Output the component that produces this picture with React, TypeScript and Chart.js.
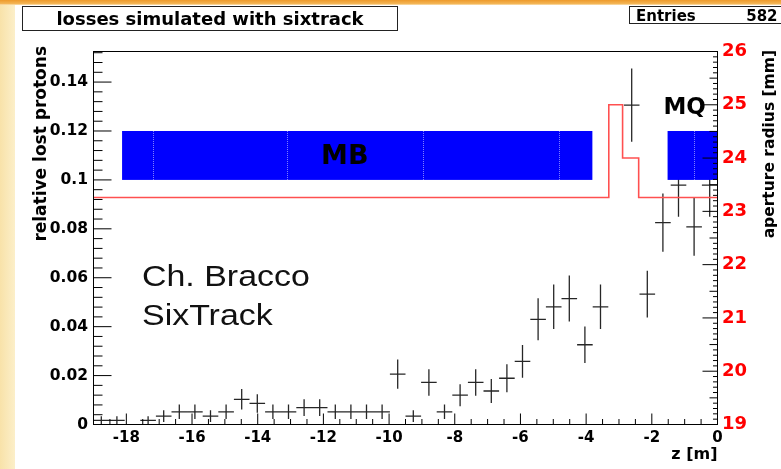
import React, { useEffect, useRef } from 'react';
import { Chart, registerables } from 'chart.js';

Chart.register(...registerables);

// ---- histogram: relative lost protons per bin, z from -19 to 0 m ----
const binLow = -19;
const binHigh = 0;
const lossValues = [
  0.0017, 0.0017, 0, 0.0017, 0.0034, 0.0052, 0.0052, 0.0034, 0.0052, 0.0103,
  0.0086, 0.0052, 0.0052, 0.0069, 0.0069, 0.0052, 0.0052, 0.0052, 0.0052, 0.0206,
  0.0034, 0.0172, 0.0052, 0.0120, 0.0172, 0.0137, 0.0189, 0.0258, 0.0430, 0.0481,
  0.0515, 0.0326, 0.0481, 0, 0.1306, 0.0533, 0.0825, 0.0979, 0.0808, 0.0979,
];
const lossErrors = [
  0.0017, 0.0017, 0, 0.0017, 0.0024, 0.0030, 0.0030, 0.0024, 0.0030, 0.0042,
  0.0038, 0.0030, 0.0030, 0.0034, 0.0034, 0.0030, 0.0030, 0.0030, 0.0030, 0.0060,
  0.0024, 0.0054, 0.0030, 0.0045, 0.0054, 0.0049, 0.0057, 0.0067, 0.0086, 0.0091,
  0.0094, 0.0075, 0.0091, 0, 0.0150, 0.0096, 0.0119, 0.0130, 0.0118, 0.0130,
];

// ---- aperture radius (right axis, mm) ----
const apertureZ = [-19, -3.31, -2.89, -2.40, 0];
const apertureR = [23.26, 25.0, 24.0, 23.26, 23.26];

// ---- magnets ----
const magnetNames = ['MB', 'MQ'];
const magnetStart = [-18.13, -1.52];
const magnetEnd = [-3.81, 0];
const magnetBottom = 0.1;
const magnetTop = 0.12;
const magnetSplits = [-17.2, -13.1, -8.96, -4.83, -0.705];
const magnetLabelZ = [-11.35, -1.0];
const magnetLabelY = [0.1065, 0.1268];
const magnetLabelSize = [27, 23];

// ---- axes ----
const xRange = [-19, 0];
const xTicks = [-18, -16, -14, -12, -10, -8, -6, -4, -2, 0];
const xTickLabels = ['-18', '-16', '-14', '-12', '-10', '-8', '-6', '-4', '-2', '0'];
const yRange = [0, 0.1525];
const yTicks = [0, 0.02, 0.04, 0.06, 0.08, 0.1, 0.12, 0.14];
const yTickLabels = ['0', '0.02', '0.04', '0.06', '0.08', '0.1', '0.12', '0.14'];
const rRange = [19, 26];
const rTicks = [19, 20, 21, 22, 23, 24, 25, 26];
const rTickLabels = ['19', '20', '21', '22', '23', '24', '25', '26'];

const titleText = 'losses simulated with sixtrack';
const statsLabel = 'Entries';
const statsValue = '582';
const yTitle = 'relative lost protons';
const rTitle = 'aperture radius [mm]';
const xTitle = 'z [m]';
const noteLines = ['Ch. Bracco', 'SixTrack'];

const BOLD = '"DejaVu Sans", "Liberation Sans", Arial, sans-serif';

const rootPlugin = {
  id: 'rootStyle',
  beforeDraw(chart: any) {
    const ctx = chart.ctx;
    const W = chart.width, H = chart.height;
    ctx.save();
    ctx.fillStyle = '#ffffff';
    ctx.fillRect(0, 0, W, H);
    // slide decoration: left beige strip and top orange band
    const g = ctx.createLinearGradient(0, 0, 15, 0);
    g.addColorStop(0, '#f8e2a9');
    g.addColorStop(1, '#fcefc9');
    ctx.fillStyle = g;
    ctx.fillRect(0, 0, 15, H);
    const t = ctx.createLinearGradient(0, 0, 0, 5);
    t.addColorStop(0, '#ee9a2a');
    t.addColorStop(0.7, '#f3b454');
    t.addColorStop(1, '#fbe2b4');
    ctx.fillStyle = t;
    ctx.fillRect(0, 0, W, 5);

    // title box
    ctx.fillStyle = '#ffffff';
    ctx.fillRect(22.5, 6.5, 375, 24);
    ctx.strokeStyle = '#222';
    ctx.lineWidth = 1;
    ctx.strokeRect(22.5, 6.5, 375, 24);
    ctx.fillStyle = '#000';
    ctx.font = `bold 18px ${BOLD}`;
    ctx.textAlign = 'center';
    ctx.textBaseline = 'alphabetic';
    ctx.fillText(titleText, 210, 25);

    // stats box
    ctx.fillStyle = '#ffffff';
    ctx.fillRect(629.5, 6.5, 152, 17);
    ctx.strokeRect(629.5, 6.5, 152, 17);
    ctx.fillStyle = '#000';
    ctx.font = `bold 15px ${BOLD}`;
    ctx.textAlign = 'left';
    ctx.fillText(statsLabel, 636, 20.5);
    ctx.textAlign = 'right';
    ctx.fillText(statsValue, 777.5, 20.5);
    ctx.restore();
  },
  beforeDatasetsDraw(chart: any) {
    const ctx = chart.ctx;
    const a = chart.chartArea;
    const xs = chart.scales.x, ys = chart.scales.y;
    const w = (binHigh - binLow) / lossValues.length;
    ctx.save();
    ctx.beginPath();
    ctx.rect(a.left, a.top, a.right - a.left, a.bottom - a.top);
    ctx.clip();
    ctx.strokeStyle = '#262626';
    ctx.lineWidth = 1.3;
    ctx.beginPath();
    lossValues.forEach((v, i) => {
      if (v <= 0) return;
      const e = lossErrors[i];
      const lo = binLow + i * w;
      const pl = xs.getPixelForValue(lo);
      const ph = xs.getPixelForValue(lo + w);
      const pc = xs.getPixelForValue(lo + w / 2);
      const py = ys.getPixelForValue(v);
      ctx.moveTo(pl, py);
      ctx.lineTo(ph, py);
      ctx.moveTo(pc, ys.getPixelForValue(v + e));
      ctx.lineTo(pc, ys.getPixelForValue(Math.max(0, v - e)));
    });
    ctx.stroke();
    ctx.restore();
  },
  afterDatasetsDraw(chart: any) {
    const ctx = chart.ctx;
    const a = chart.chartArea;
    const xs = chart.scales.x, ys = chart.scales.y, rs = chart.scales.y2;
    ctx.save();
    ctx.beginPath();
    ctx.rect(a.left, a.top, a.right - a.left, a.bottom - a.top);
    ctx.clip();
    // magnets
    const yb = ys.getPixelForValue(magnetBottom);
    const yt = ys.getPixelForValue(magnetTop);
    magnetNames.forEach((_, i) => {
      const x0 = xs.getPixelForValue(magnetStart[i]);
      const x1 = xs.getPixelForValue(magnetEnd[i]);
      ctx.fillStyle = '#0000ff';
      ctx.fillRect(x0, yt, x1 - x0, yb - yt);
    });
    ctx.strokeStyle = 'rgba(170,170,255,0.75)';
    ctx.lineWidth = 1;
    ctx.setLineDash([1, 1]);
    magnetSplits.forEach((z) => {
      const x = Math.round(xs.getPixelForValue(z)) + 0.5;
      ctx.beginPath();
      ctx.moveTo(x, yt);
      ctx.lineTo(x, yb);
      ctx.stroke();
    });
    ctx.setLineDash([]);
    ctx.restore();

    ctx.save();
    ctx.fillStyle = '#000';
    ctx.textAlign = 'center';
    ctx.textBaseline = 'alphabetic';
    magnetNames.forEach((n, i) => {
      ctx.font = `bold ${magnetLabelSize[i]}px ${BOLD}`;
      ctx.fillText(n, xs.getPixelForValue(magnetLabelZ[i]), ys.getPixelForValue(magnetLabelY[i]));
    });

    // frame
    ctx.strokeStyle = '#000';
    ctx.lineWidth = 1;
    ctx.strokeRect(a.left, a.top, a.right - a.left, a.bottom - a.top);

    // ticks
    ctx.beginPath();
    for (let k = 0; k <= 38; k++) {
      const v = k * 0.004;
      if (v > yRange[1]) break;
      const y = ys.getPixelForValue(v);
      const len = k % 5 === 0 ? 18 : 9;
      ctx.moveTo(a.left, y);
      ctx.lineTo(a.left + len, y);
    }
    for (let k = 0; k <= 70; k++) {
      const y = rs.getPixelForValue(rRange[0] + k * 0.1);
      const len = k % 10 === 0 ? 15 : k % 5 === 0 ? 8 : 4.5;
      ctx.moveTo(a.right, y);
      ctx.lineTo(a.right - len, y);
    }
    for (let k = 0; k <= 38; k++) {
      const v = xRange[0] + k * 0.5;
      const x = xs.getPixelForValue(v);
      const len = Math.abs(v % 2) < 1e-9 ? 11 : 5.5;
      ctx.moveTo(x, a.bottom);
      ctx.lineTo(x, a.bottom - len);
    }
    ctx.stroke();

    // axis titles
    ctx.fillStyle = '#000';
    ctx.font = `bold 17px ${BOLD}`;
    ctx.save();
    ctx.translate(46, 46);
    ctx.rotate(-Math.PI / 2);
    ctx.textAlign = 'right';
    ctx.fillText(yTitle, 0, 0);
    ctx.restore();
    ctx.font = `bold 15.5px ${BOLD}`;
    ctx.save();
    ctx.translate(774, 50);
    ctx.rotate(-Math.PI / 2);
    ctx.textAlign = 'right';
    ctx.fillText(rTitle, 0, 0);
    ctx.restore();
    ctx.font = `bold 16px ${BOLD}`;
    ctx.textAlign = 'right';
    ctx.fillText(xTitle, a.right, 459);

    // note
    ctx.fillStyle = '#111';
    ctx.font = '29px "Liberation Sans", Arial, sans-serif';
    ctx.textAlign = 'left';
    const noteY = [286, 325];
    noteLines.forEach((s, i) => {
      ctx.save();
      ctx.translate(142, noteY[i]);
      ctx.scale(1.17, 1);
      ctx.fillText(s, 0, 0);
      ctx.restore();
    });
    ctx.restore();
  },
};

export default function App() {
  const ref = useRef<HTMLCanvasElement | null>(null);
  useEffect(() => {
    document.body.style.margin = '0';
    const canvas = ref.current;
    if (!canvas) return;
    const w = (binHigh - binLow) / lossValues.length;
    const chart = new Chart(canvas, {
      type: 'scatter',
      data: {
        datasets: [
          {
            type: 'scatter',
            label: 'losses',
            data: lossValues.map((v, i) => ({ x: binLow + (i + 0.5) * w, y: v })),
            pointRadius: 0,
            xAxisID: 'x',
            yAxisID: 'y',
          } as any,
          {
            type: 'line',
            label: 'aperture',
            data: apertureZ.map((z, i) => ({ x: z, y: apertureR[i] })),
            stepped: 'before',
            borderColor: 'rgb(255,80,80)',
            borderWidth: 1.6,
            pointRadius: 0,
            fill: false,
            xAxisID: 'x',
            yAxisID: 'y2',
          } as any,
        ],
      },
      options: {
        responsive: false,
        animation: false,
        devicePixelRatio: 1,
        events: [],
        layout: { padding: { top: 51.5, left: 0, right: 0, bottom: 0 } },
        plugins: { legend: { display: false }, tooltip: { enabled: false }, title: { display: false } },
        scales: {
          x: {
            type: 'linear',
            position: 'bottom',
            min: xRange[0],
            max: xRange[1],
            grid: { display: false, drawTicks: false },
            border: { display: false },
            afterFit: (s: any) => { s.height = 44.5; },
            afterBuildTicks: (s: any) => { s.ticks = xTicks.map((v) => ({ value: v })); },
            ticks: {
              autoSkip: false,
              maxRotation: 0,
              padding: 4.5,
              color: '#000',
              font: { family: BOLD, weight: 'bold', size: 15 },
              callback: (_v: any, i: number) => xTickLabels[i],
            },
          },
          y: {
            type: 'linear',
            position: 'left',
            min: yRange[0],
            max: yRange[1],
            grid: { display: false, drawTicks: false },
            border: { display: false },
            afterFit: (s: any) => { s.width = 93.5; },
            afterBuildTicks: (s: any) => { s.ticks = yTicks.map((v) => ({ value: v })); },
            ticks: {
              autoSkip: false,
              padding: 5.5,
              color: '#000',
              font: { family: BOLD, weight: 'bold', size: 15.5 },
              callback: (_v: any, i: number) => yTickLabels[i],
            },
          },
          y2: {
            type: 'linear',
            position: 'right',
            min: rRange[0],
            max: rRange[1],
            grid: { display: false, drawTicks: false },
            border: { display: false },
            afterFit: (s: any) => { s.width = 63.5; },
            afterBuildTicks: (s: any) => { s.ticks = rTicks.map((v) => ({ value: v })); },
            ticks: {
              autoSkip: false,
              padding: 4.5,
              color: '#ff0000',
              font: { family: BOLD, weight: 'bold', size: 18 },
              callback: (_v: any, i: number) => rTickLabels[i],
            },
          },
        },
      } as any,
      plugins: [rootPlugin],
    });
    return () => chart.destroy();
  }, []);
  return (
    <div style={{ width: 781, height: 469 }}>
      <canvas ref={ref} width={781} height={469} style={{ display: 'block' }} />
    </div>
  );
}
